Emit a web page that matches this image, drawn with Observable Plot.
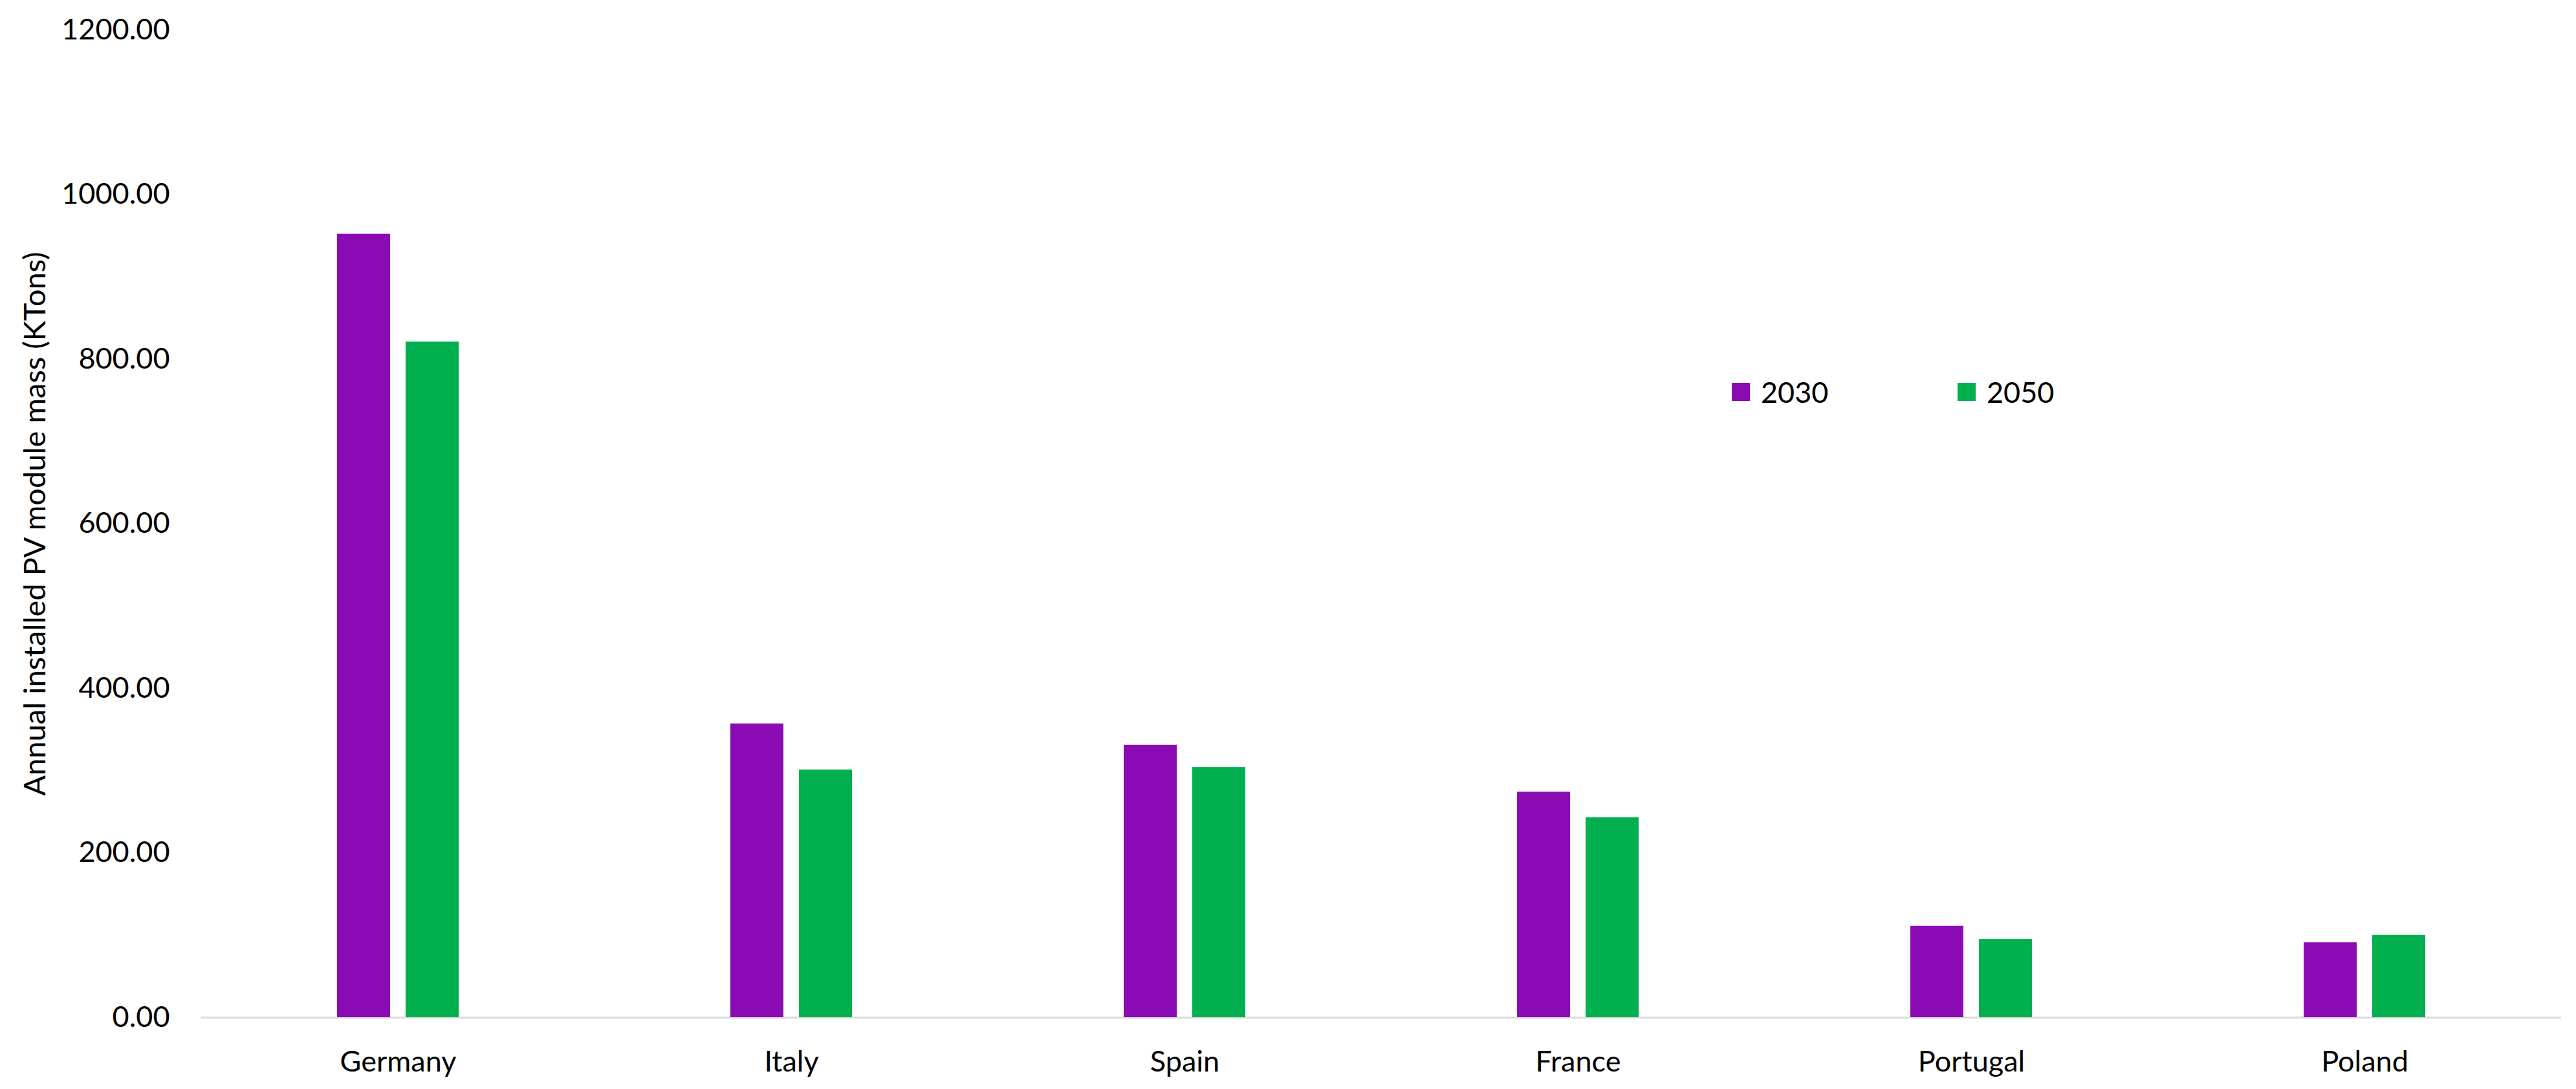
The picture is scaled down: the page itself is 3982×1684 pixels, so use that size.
<!DOCTYPE html>
<html>
<head>
<meta charset="utf-8">
<script src="https://cdn.jsdelivr.net/npm/d3@7"></script>
<script src="https://cdn.jsdelivr.net/npm/@observablehq/plot@0.6"></script>
<style>
  html, body { margin: 0; padding: 0; background: #fff; }
  #wrap { position: relative; width: 3982px; height: 1684px; }
  .legend-item { position: absolute; top: 581px; height: 50px; display: flex; align-items: center;
    font-family: Lato, sans-serif; font-size: 45px; color: #000; }
  .legend-item .sw { width: 28px; height: 28px; margin-right: 17px; }
  g[aria-label="y-axis label"] text { font-size: 47px; }
</style>
</head>
<body>
<div id="wrap"></div>
<script>
const countries = ["Germany", "Italy", "Spain", "France", "Portugal", "Poland"];
const years = ["2030", "2050"];
const values2030 = [952, 357, 331, 274, 111, 91];
const values2050 = [821, 301, 304, 243, 95, 100];
const colors = ["#8A0BB3", "#00B04F"];
const yTicks = [0, 200, 400, 600, 800, 1000, 1200];

const rows = [];
countries.forEach((c, i) => {
  rows.push({country: c, year: years[0], value: values2030[i]});
  rows.push({country: c, year: years[1], value: values2050[i]});
});

const chart = Plot.plot({
  width: 3982,
  height: 1684,
  marginTop: 46,
  marginBottom: 111,
  marginLeft: 309,
  marginRight: 22,
  style: {fontFamily: "Lato, sans-serif", fontSize: "45px", color: "#000", background: "#fff"},
  fx: {domain: countries, paddingInner: 0.6875, paddingOuter: 0.34375, label: null, axis: "bottom", tickSize: 0, tickPadding: 52},
  x: {domain: years, paddingInner: 0.224, paddingOuter: 0, axis: null},
  y: {domain: [0, 1200], ticks: yTicks, tickFormat: d3.format(".2f"), tickSize: 0, tickPadding: 258,
      label: "Annual installed PV module mass (KTons)", labelAnchor: "center", labelOffset: 484, labelArrow: "none"},
  color: {domain: years, range: colors},
  marks: [
    Plot.ruleY([0], {stroke: "#d9d9d9", strokeWidth: 3, insetLeft: -209, insetRight: -209}),
    Plot.barY(rows, {fx: "country", x: "year", y: "value", fill: "year"})
  ]
});

const wrap = document.getElementById("wrap");
wrap.appendChild(chart);

const legendLeft = [2677, 3026];
years.forEach((y, i) => {
  const item = document.createElement("div");
  item.className = "legend-item";
  item.style.left = legendLeft[i] + "px";
  const sw = document.createElement("div");
  sw.className = "sw";
  sw.style.background = colors[i];
  const t = document.createElement("span");
  t.textContent = y;
  item.appendChild(sw);
  item.appendChild(t);
  wrap.appendChild(item);
});
</script>
</body>
</html>
